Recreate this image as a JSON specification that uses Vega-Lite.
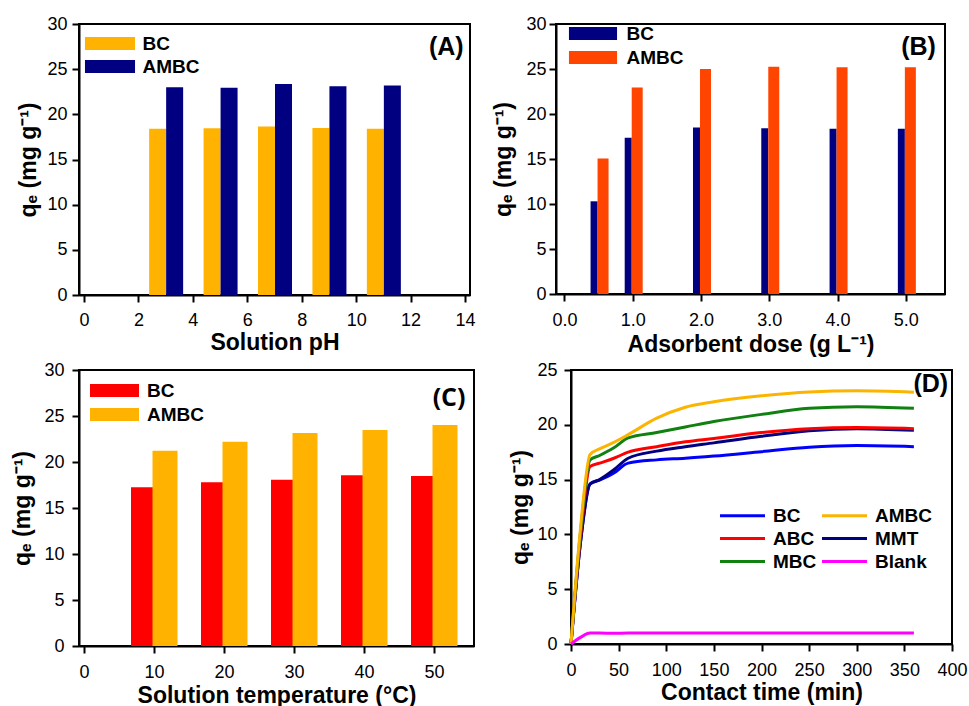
{
  "$schema": "https://vega.github.io/schema/vega-lite/v6.json",
  "background": "white",
  "padding": {"left": 10, "top": 14, "right": 5, "bottom": 0},
  "config": {
    "font": "Liberation Sans",
    "view": {"stroke": "black", "strokeWidth": 2},
    "axis": {"grid": false, "domainColor": "black", "domainWidth": 2, "tickColor": "black", "tickWidth": 2, "tickSize": 7, "labelColor": "black", "labelFontSize": 18, "labelFont": "Liberation Sans", "titleFont": "Liberation Sans", "titleFontSize": 23, "titleFontWeight": "bold", "titleColor": "black", "labelPadding": 7, "labelFlush": false, "labelOverlap": false, "titlePadding": 6},
    "legend": {"labelFont": "Liberation Sans", "labelFontSize": 19, "labelFontWeight": "bold", "labelColor": "black", "title": null}
  },
  "resolve": {"scale": {"color": "independent"}, "legend": {"color": "independent"}},
  "spacing": 3,
  "vconcat": [
    {
      "spacing": 14,
      "resolve": {"scale": {"color": "independent"}, "legend": {"color": "independent"}},
      "hconcat": [
        {
          "width": 391, "height": 271,
          "data": {"values": [
            {"pH": 3, "series": "BC", "qe": 18.4}, {"pH": 3, "series": "AMBC", "qe": 23.0},
            {"pH": 5, "series": "BC", "qe": 18.45}, {"pH": 5, "series": "AMBC", "qe": 22.95},
            {"pH": 7, "series": "BC", "qe": 18.65}, {"pH": 7, "series": "AMBC", "qe": 23.35},
            {"pH": 9, "series": "BC", "qe": 18.5}, {"pH": 9, "series": "AMBC", "qe": 23.1},
            {"pH": 11, "series": "BC", "qe": 18.4}, {"pH": 11, "series": "AMBC", "qe": 23.2}
          ]},
          "layer": [
            {"transform": [{"filter": "datum.series === 'BC'"}], "mark": {"type": "bar", "orient": "vertical", "width": 17, "xOffset": -8},
             "encoding": {
              "x": {"field": "pH", "type": "quantitative", "scale": {"domain": [0, 14], "nice": false}, "axis": {"values": [0, 2, 4, 6, 8, 10, 12, 14], "title": "Solution pH", "titlePadding": 2, "labelPadding": 9}},
              "y": {"field": "qe", "type": "quantitative", "stack": null, "scale": {"domain": [0, 30], "nice": false}, "axis": {"values": [0, 5, 10, 15, 20, 25, 30], "title": "qₑ (mg g⁻¹)", "labelPadding": 5}},
              "color": {"field": "series", "type": "nominal", "scale": {"domain": ["BC", "AMBC"], "range": ["#FFB300", "#000080"]},
                "legend": {"orient": "none", "legendX": 3, "legendY": 10, "symbolType": "M-3.85,-1L3.85,-1L3.85,1L-3.85,1Z", "symbolSize": 169, "symbolOffset": 18.5, "labelOffset": 23, "rowPadding": 3, "symbolStrokeWidth": 0}}
             }},
            {"transform": [{"filter": "datum.series === 'AMBC'"}], "mark": {"type": "bar", "orient": "vertical", "width": 17, "xOffset": 9},
             "encoding": {
              "x": {"field": "pH", "type": "quantitative", "scale": {"domain": [0, 14], "nice": false}},
              "y": {"field": "qe", "type": "quantitative", "stack": null, "scale": {"domain": [0, 30], "nice": false}},
              "color": {"field": "series", "type": "nominal", "scale": {"domain": ["BC", "AMBC"], "range": ["#FFB300", "#000080"]}}
             }},
            {"data": {"values": [{"label": "(A)"}]}, "mark": {"type": "text", "align": "right", "baseline": "middle", "fontSize": 25, "fontWeight": "bold", "color": "black"},
             "encoding": {"x": {"datum": 13.95, "type": "quantitative"}, "y": {"datum": 27.5, "type": "quantitative"}, "text": {"field": "label"}}}
          ]
        },
        {
          "width": 389, "height": 270,
          "data": {"values": [
            {"dose": 0.5, "series": "BC", "qe": 10.3}, {"dose": 0.5, "series": "AMBC", "qe": 15.05},
            {"dose": 1, "series": "BC", "qe": 17.35}, {"dose": 1, "series": "AMBC", "qe": 22.95},
            {"dose": 2, "series": "BC", "qe": 18.5}, {"dose": 2, "series": "AMBC", "qe": 25.0},
            {"dose": 3, "series": "BC", "qe": 18.42}, {"dose": 3, "series": "AMBC", "qe": 25.24},
            {"dose": 4, "series": "BC", "qe": 18.35}, {"dose": 4, "series": "AMBC", "qe": 25.2},
            {"dose": 5, "series": "BC", "qe": 18.35}, {"dose": 5, "series": "AMBC", "qe": 25.2}
          ]},
          "layer": [
            {"transform": [{"filter": "datum.series === 'BC'"}], "mark": {"type": "bar", "orient": "vertical", "width": 7, "xOffset": -4.5},
             "encoding": {
              "x": {"field": "dose", "type": "quantitative", "scale": {"domain": [-0.05, 5.5], "nice": false}, "axis": {"values": [0, 1, 2, 3, 4, 5], "format": ".1f", "title": "Adsorbent dose (g L⁻¹)", "titlePadding": 4, "labelPadding": 10}},
              "y": {"field": "qe", "type": "quantitative", "stack": null, "scale": {"domain": [0, 30], "nice": false}, "axis": {"values": [0, 5, 10, 15, 20, 25, 30], "title": "qₑ (mg g⁻¹)", "titlePadding": 10, "labelPadding": 3}},
              "color": {"field": "series", "type": "nominal", "scale": {"domain": ["BC", "AMBC"], "range": ["#000080", "#FF4500"]},
                "legend": {"orient": "none", "legendX": 10, "legendY": 0, "symbolType": "M-3.7,-1L3.7,-1L3.7,1L-3.7,1Z", "symbolSize": 169, "symbolOffset": 17.5, "labelOffset": 24, "rowPadding": 4, "symbolStrokeWidth": 0}}
             }},
            {"transform": [{"filter": "datum.series === 'AMBC'"}], "mark": {"type": "bar", "orient": "vertical", "width": 11, "xOffset": 4.5},
             "encoding": {
              "x": {"field": "dose", "type": "quantitative", "scale": {"domain": [-0.05, 5.5], "nice": false}},
              "y": {"field": "qe", "type": "quantitative", "stack": null, "scale": {"domain": [0, 30], "nice": false}},
              "color": {"field": "series", "type": "nominal", "scale": {"domain": ["BC", "AMBC"], "range": ["#000080", "#FF4500"]}}
             }},
            {"data": {"values": [{"label": "(B)"}]}, "mark": {"type": "text", "align": "right", "baseline": "middle", "fontSize": 25, "fontWeight": "bold", "color": "black"},
             "encoding": {"x": {"datum": 5.44, "type": "quantitative"}, "y": {"datum": 27.4, "type": "quantitative"}, "text": {"field": "label"}}}
          ]
        }
      ]
    },
    {
      "spacing": 33,
      "resolve": {"scale": {"color": "independent"}, "legend": {"color": "independent"}},
      "hconcat": [
        {
          "width": 395, "height": 276,
          "data": {"values": [
            {"temp": 10, "series": "BC", "qe": 17.25}, {"temp": 10, "series": "AMBC", "qe": 21.23},
            {"temp": 20, "series": "BC", "qe": 17.8}, {"temp": 20, "series": "AMBC", "qe": 22.2},
            {"temp": 30, "series": "BC", "qe": 18.08}, {"temp": 30, "series": "AMBC", "qe": 23.15},
            {"temp": 40, "series": "BC", "qe": 18.55}, {"temp": 40, "series": "AMBC", "qe": 23.48},
            {"temp": 50, "series": "BC", "qe": 18.48}, {"temp": 50, "series": "AMBC", "qe": 24.02}
          ]},
          "layer": [
            {"transform": [{"filter": "datum.series === 'BC'"}], "mark": {"type": "bar", "orient": "vertical", "width": 22, "xOffset": -12},
             "encoding": {
              "x": {"field": "temp", "type": "quantitative", "scale": {"domain": [0, 55], "nice": false}, "axis": {"values": [0, 10, 20, 30, 40, 50], "title": "Solution temperature (°C)", "titlePadding": 3, "labelPadding": 10}},
              "y": {"field": "qe", "type": "quantitative", "stack": null, "scale": {"domain": [0, 30], "nice": false}, "axis": {"values": [0, 5, 10, 15, 20, 25, 30], "title": "qₑ (mg g⁻¹)", "titlePadding": 9, "labelPadding": 8}},
              "color": {"field": "series", "type": "nominal", "scale": {"domain": ["BC", "AMBC"], "range": ["#FF0000", "#FFB300"]},
                "legend": {"orient": "none", "legendX": 8, "legendY": 11, "symbolType": "M-3.77,-1L3.77,-1L3.77,1L-3.77,1Z", "symbolSize": 169, "symbolOffset": 18, "labelOffset": 23, "rowPadding": 4, "symbolStrokeWidth": 0}}
             }},
            {"transform": [{"filter": "datum.series === 'AMBC'"}], "mark": {"type": "bar", "orient": "vertical", "width": 25, "xOffset": 11},
             "encoding": {
              "x": {"field": "temp", "type": "quantitative", "scale": {"domain": [0, 55], "nice": false}},
              "y": {"field": "qe", "type": "quantitative", "stack": null, "scale": {"domain": [0, 30], "nice": false}},
              "color": {"field": "series", "type": "nominal", "scale": {"domain": ["BC", "AMBC"], "range": ["#FF0000", "#FFB300"]}}
             }},
            {"data": {"values": [{"label": "(C)"}]}, "mark": {"type": "text", "align": "right", "baseline": "middle", "fontSize": 25, "fontWeight": "bold", "font": "Open Sans", "color": "black"},
             "encoding": {"x": {"datum": 54.5, "type": "quantitative"}, "y": {"datum": 27.0, "type": "quantitative"}, "text": {"field": "label"}}}
          ]
        },
        {
          "width": 381, "height": 274,
          "data": {"values": [
            {"t": 0, "s": "BC", "q": 0}, {"t": 10, "s": "BC", "q": 9.3}, {"t": 20, "s": "BC", "q": 14.6}, {"t": 30, "s": "BC", "q": 14.95}, {"t": 45, "s": "BC", "q": 15.6}, {"t": 60, "s": "BC", "q": 16.5}, {"t": 90, "s": "BC", "q": 16.8}, {"t": 120, "s": "BC", "q": 16.95}, {"t": 150, "s": "BC", "q": 17.15}, {"t": 200, "s": "BC", "q": 17.55}, {"t": 250, "s": "BC", "q": 17.95}, {"t": 300, "s": "BC", "q": 18.1}, {"t": 360, "s": "BC", "q": 18.0},
            {"t": 0, "s": "MMT", "q": 0}, {"t": 10, "s": "MMT", "q": 9.3}, {"t": 20, "s": "MMT", "q": 14.6}, {"t": 30, "s": "MMT", "q": 15.0}, {"t": 45, "s": "MMT", "q": 15.9}, {"t": 60, "s": "MMT", "q": 16.95}, {"t": 90, "s": "MMT", "q": 17.6}, {"t": 120, "s": "MMT", "q": 18.0}, {"t": 150, "s": "MMT", "q": 18.35}, {"t": 200, "s": "MMT", "q": 18.95}, {"t": 250, "s": "MMT", "q": 19.45}, {"t": 300, "s": "MMT", "q": 19.65}, {"t": 360, "s": "MMT", "q": 19.5},
            {"t": 0, "s": "ABC", "q": 0}, {"t": 10, "s": "ABC", "q": 9.8}, {"t": 20, "s": "ABC", "q": 16.2}, {"t": 30, "s": "ABC", "q": 16.5}, {"t": 45, "s": "ABC", "q": 16.95}, {"t": 60, "s": "ABC", "q": 17.5}, {"t": 90, "s": "ABC", "q": 18.0}, {"t": 120, "s": "ABC", "q": 18.45}, {"t": 150, "s": "ABC", "q": 18.75}, {"t": 200, "s": "ABC", "q": 19.3}, {"t": 250, "s": "ABC", "q": 19.65}, {"t": 300, "s": "ABC", "q": 19.75}, {"t": 360, "s": "ABC", "q": 19.65},
            {"t": 0, "s": "MBC", "q": 0}, {"t": 10, "s": "MBC", "q": 10.2}, {"t": 20, "s": "MBC", "q": 16.8}, {"t": 30, "s": "MBC", "q": 17.2}, {"t": 45, "s": "MBC", "q": 17.9}, {"t": 60, "s": "MBC", "q": 18.8}, {"t": 90, "s": "MBC", "q": 19.3}, {"t": 120, "s": "MBC", "q": 19.8}, {"t": 150, "s": "MBC", "q": 20.3}, {"t": 200, "s": "MBC", "q": 20.95}, {"t": 250, "s": "MBC", "q": 21.5}, {"t": 300, "s": "MBC", "q": 21.65}, {"t": 360, "s": "MBC", "q": 21.5},
            {"t": 0, "s": "AMBC", "q": 0}, {"t": 10, "s": "AMBC", "q": 10.6}, {"t": 20, "s": "AMBC", "q": 17.3}, {"t": 30, "s": "AMBC", "q": 17.8}, {"t": 45, "s": "AMBC", "q": 18.4}, {"t": 60, "s": "AMBC", "q": 19.1}, {"t": 90, "s": "AMBC", "q": 20.6}, {"t": 120, "s": "AMBC", "q": 21.6}, {"t": 150, "s": "AMBC", "q": 22.1}, {"t": 200, "s": "AMBC", "q": 22.65}, {"t": 250, "s": "AMBC", "q": 23.0}, {"t": 300, "s": "AMBC", "q": 23.1}, {"t": 360, "s": "AMBC", "q": 22.98},
            {"t": 0, "s": "Blank", "q": 0}, {"t": 10, "s": "Blank", "q": 0.6}, {"t": 20, "s": "Blank", "q": 1.0}, {"t": 30, "s": "Blank", "q": 1.0}, {"t": 45, "s": "Blank", "q": 0.98}, {"t": 60, "s": "Blank", "q": 1.0}, {"t": 90, "s": "Blank", "q": 1.0}, {"t": 120, "s": "Blank", "q": 1.0}, {"t": 150, "s": "Blank", "q": 1.0}, {"t": 200, "s": "Blank", "q": 1.0}, {"t": 250, "s": "Blank", "q": 1.0}, {"t": 300, "s": "Blank", "q": 1.0}, {"t": 360, "s": "Blank", "q": 1.0}
          ]},
          "layer": [
            {"mark": {"type": "line", "strokeWidth": 3, "interpolate": "monotone"},
             "encoding": {
              "x": {"field": "t", "type": "quantitative", "scale": {"domain": [0, 400], "nice": false}, "axis": {"values": [0, 50, 100, 150, 200, 250, 300, 350, 400], "title": "Contact time (min)", "titlePadding": 2, "labelPadding": 10}},
              "y": {"field": "q", "type": "quantitative", "scale": {"domain": [0, 25], "nice": false}, "axis": {"values": [0, 5, 10, 15, 20, 25], "title": "qₑ (mg g⁻¹)", "titlePadding": 4, "labelPadding": 7}},
              "color": {"field": "s", "type": "nominal", "scale": {"domain": ["BC", "ABC", "MBC", "AMBC", "MMT", "Blank"], "range": ["#0000FF", "#FF0000", "#108010", "#FBB400", "#000080", "#FF00FF"]},
               "legend": {"orient": "none", "legendX": 146, "legendY": 136, "columns": 2, "symbolType": "M-3.46,0L3.46,0", "symbolSize": 169, "symbolOffset": 16, "labelOffset": 21, "symbolStrokeWidth": 3, "rowPadding": 3, "columnPadding": -1}}}},
            {"data": {"values": [{"label": "(D)"}]}, "mark": {"type": "text", "align": "right", "baseline": "middle", "fontSize": 25, "fontWeight": "bold", "color": "black"},
             "encoding": {"x": {"datum": 396, "type": "quantitative"}, "y": {"datum": 23.7, "type": "quantitative"}, "text": {"field": "label"}}}
          ]
        }
      ]
    }
  ]
}
